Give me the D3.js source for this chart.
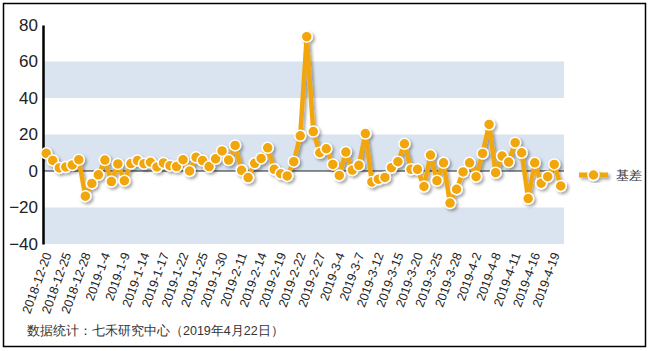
<!DOCTYPE html>
<html>
<head>
<meta charset="utf-8">
<script src="https://cdn.jsdelivr.net/npm/d3@7"></script>
<style>
  body { margin: 0; background: #fff; }
  text { font-family: Arial, "Liberation Sans", sans-serif; }
</style>
</head>
<body>
<div id="chart"></div>
<script>
// trading days
const dates = [
  "2018-12-20","2018-12-21","2018-12-24","2018-12-25","2018-12-26","2018-12-27","2018-12-28",
  "2019-1-2","2019-1-3","2019-1-4","2019-1-7","2019-1-8","2019-1-9","2019-1-10","2019-1-11",
  "2019-1-14","2019-1-15","2019-1-16","2019-1-17","2019-1-18","2019-1-21","2019-1-22","2019-1-23",
  "2019-1-24","2019-1-25","2019-1-28","2019-1-29","2019-1-30","2019-1-31","2019-2-1",
  "2019-2-11","2019-2-12","2019-2-13","2019-2-14","2019-2-15","2019-2-18","2019-2-19","2019-2-20",
  "2019-2-21","2019-2-22","2019-2-25","2019-2-26","2019-2-27","2019-2-28","2019-3-1",
  "2019-3-4","2019-3-5","2019-3-6","2019-3-7","2019-3-8","2019-3-11","2019-3-12","2019-3-13",
  "2019-3-14","2019-3-15","2019-3-18","2019-3-19","2019-3-20","2019-3-21","2019-3-22",
  "2019-3-25","2019-3-26","2019-3-27","2019-3-28","2019-3-29","2019-4-1","2019-4-2","2019-4-3",
  "2019-4-4","2019-4-8","2019-4-9","2019-4-10","2019-4-11","2019-4-12","2019-4-15","2019-4-16",
  "2019-4-17","2019-4-18","2019-4-19","2019-4-22"
];

// 基差
const basis = [
  9.7, 5.8, 1.7, 2.2, 3.3, 6.2, -13.8, -6.8, -2.1, 6.0,
  -5.8, 3.9, -5.3, 4.1, 5.7, 4.0, 4.8, 2.2, 4.4, 2.9,
  2.4, 6.2, 0.0, 7.5, 5.7, 2.4, 6.7, 11.0, 6.0, 14.0,
  0.4, -3.6, 4.2, 6.9, 12.7, 0.9, -1.5, -2.7, 5.1, 19.3,
  73.6, 21.6, 10.0, 12.2, 3.6, -2.4, 10.4, 0.5, 3.1, 20.5,
  -6.0, -4.5, -3.5, 1.8, 5.1, 14.9, 0.9, 0.9, -8.5, 8.7,
  -5.3, 4.5, -17.6, -10.0, -0.5, 4.5, -3.1, 9.6, 25.5, -0.9,
  8.2, 4.9, 15.5, 10.0, -15.1, 4.5, -6.7, -3.1, 3.6, -8.2
];

const yTicks = [-40, -20, 0, 20, 40, 60, 80];
const bands = [[40, 60], [0, 20], [-40, -20]];
const seriesName = "基差";
const source = "数据统计：七禾研究中心（2019年4月22日）";

const W = 649, H = 351;
const plot = { left: 43, right: 564, top: 25, bottom: 244 };
const orange = "#f2a60c";

const svg = d3.select("#chart").append("svg")
    .attr("width", W)
    .attr("height", H);

const defs = svg.append("defs");
const f = defs.append("filter").attr("id", "shadow")
    .attr("x", "-20%").attr("y", "-20%").attr("width", "140%").attr("height", "140%");
f.append("feDropShadow")
    .attr("dx", 2).attr("dy", 2)
    .attr("stdDeviation", 1.5)
    .attr("flood-color", "#000")
    .attr("flood-opacity", 0.35);

// border
svg.append("rect")
    .attr("x", 3.5).attr("y", 3.5)
    .attr("width", 642).attr("height", 343)
    .attr("fill", "#fff")
    .attr("stroke", "#000")
    .attr("stroke-width", 1.5);

const x = d3.scalePoint()
    .domain(dates)
    .range([plot.left, plot.right])
    .padding(0.5);

const y = d3.scaleLinear()
    .domain([-40, 80])
    .range([plot.bottom, plot.top]);

// bands
svg.append("g").selectAll("rect")
    .data(bands)
    .join("rect")
    .attr("x", plot.left)
    .attr("width", plot.right - plot.left)
    .attr("y", d => y(d[1]))
    .attr("height", d => y(d[0]) - y(d[1]))
    .attr("fill", "#d9e4f0");

// zero line
svg.append("line")
    .attr("x1", plot.left).attr("x2", plot.right)
    .attr("y1", y(0)).attr("y2", y(0))
    .attr("stroke", "#222")
    .attr("stroke-width", 1);

// y axis
const yAxis = svg.append("g")
    .attr("transform", `translate(${plot.left},0)`)
    .call(d3.axisLeft(y).tickValues(yTicks).tickSize(0).tickPadding(5));
yAxis.select(".domain").attr("stroke", "#000").attr("stroke-width", 2.5);
yAxis.selectAll("text")
    .attr("font-size", 17)
    .attr("fill", "#222");

// x axis
const xAxis = svg.append("g")
    .attr("transform", `translate(0,${plot.bottom})`)
    .call(d3.axisBottom(x).tickValues(dates.filter((d, i) => i % 3 === 0)).tickSize(0));
xAxis.select(".domain").remove();
xAxis.selectAll("text")
    .attr("y", 0)
    .attr("dy", "0.35em")
    .attr("transform", "translate(1,9) rotate(-70)")
    .attr("text-anchor", "end")
    .attr("font-size", 12.5)
    .attr("fill", "#222");

// series
const series = svg.append("g").attr("filter", "url(#shadow)");
series.append("path")
    .datum(basis)
    .attr("fill", "none")
    .attr("stroke", orange)
    .attr("stroke-width", 4.5)
    .attr("stroke-linejoin", "round")
    .attr("d", d3.line()
        .x((d, i) => x(dates[i]))
        .y(d => y(d)));

series.selectAll("circle")
    .data(basis)
    .join("circle")
    .attr("cx", (d, i) => x(dates[i]))
    .attr("cy", d => y(d))
    .attr("r", 5.5)
    .attr("fill", orange)
    .attr("stroke", "#fff")
    .attr("stroke-width", 1.5);

// legend
const lg = svg.append("g").attr("transform", `translate(579,${y(0) + 4})`);
const lgMark = lg.append("g").attr("filter", "url(#shadow)");
lgMark.append("line")
    .attr("x1", 0).attr("x2", 29)
    .attr("y1", 0).attr("y2", 0)
    .attr("stroke", orange)
    .attr("stroke-width", 5);
lgMark.append("circle")
    .attr("cx", 14.5).attr("r", 5.5)
    .attr("fill", orange)
    .attr("stroke", "#fff")
    .attr("stroke-width", 1.5);
lg.append("text")
    .attr("x", 37).attr("dy", "0.35em")
    .attr("font-size", 13)
    .attr("fill", "#333")
    .text(seriesName);

// source note
svg.append("text")
    .attr("x", 27).attr("y", 335)
    .attr("font-size", 12.5)
    .attr("fill", "#333")
    .text(source);
</script>
</body>
</html>
